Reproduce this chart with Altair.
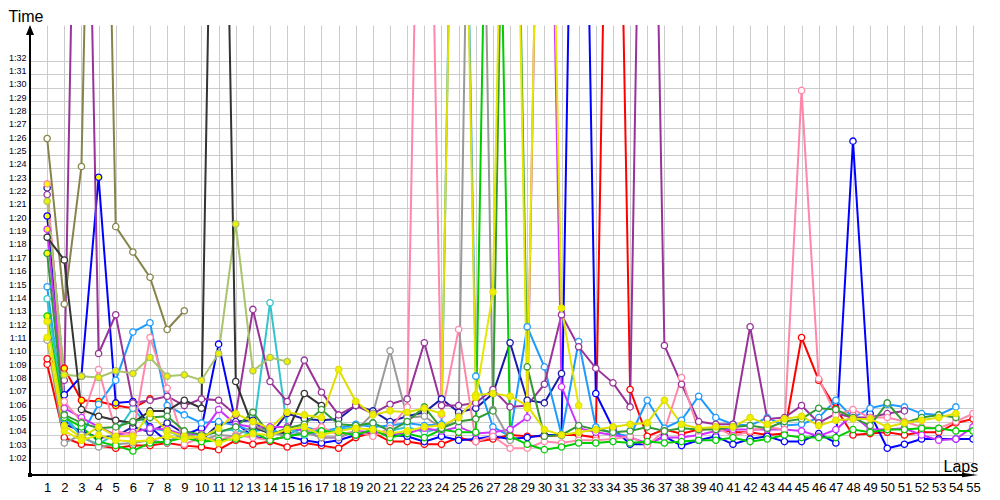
import altair as alt
import pandas as pd

LAPS = list(range(1, 56))
Y_TICKS = list(range(62, 93))

red = [69.3, 63.8, 63.3, 63.2, 63.0, 63.2, 63.2, 63.4, 63.2, 63.1, 62.9, 63.6, 63.3, 63.5, 63.1,
       63.4, 63.2, 63.0, 63.8, 64.2, 63.5, 63.5, 63.3, 63.3, 63.8, 63.5, 63.7, 64.0, 63.9, 63.9,
       64.0, 64.0, 63.8, 138.0, 67.4, 63.9, 64.4, 64.1, 64.4, 64.5, 64.2, 64.2, 64.0, 64.1, 71.3,
       68.1, 66.0, 64.0, 64.1, 64.2, 64.0, 64.2, 64.2, 64.9, 65.2]
red2 = [69.7, 69.0, 66.6, 66.5, 66.2, 66.0, 66.7]
blue = [80.4, 67.0, 68.4, 83.3, 66.4, 66.5, 64.6, 63.5, 64.0, 64.5, 70.8, 64.9, 63.9, 63.6, 63.9,
        63.6, 63.4, 63.6, 64.0, 64.3, 64.0, 63.9, 63.5, 63.9, 63.6, 63.7, 63.9, 63.7, 63.8, 64.0,
        64.0, 141.0, 67.1, 64.5, 63.3, 63.3, 63.9, 63.2, 63.6, 63.9, 63.3, 63.7, 63.9, 63.5, 63.5,
        64.1, 63.4, 86.0, 65.6, 63.0, 63.3, 63.7, 63.7, 63.7, 63.7]
navy = [82.5, 64.8, 64.3, 63.8, 63.9, 64.6, 64.2, 64.9, 64.1, 63.6, 64.8, 65.0, 65.1, 64.0, 65.6,
        65.2, 65.1, 65.2, 66.2, 65.8, 65.0, 65.4, 65.7, 66.7, 65.7, 66.0, 67.1, 70.9, 66.6, 66.4,
        68.6]
lightblue = [75.1, 65.2, 64.0, 66.3, 68.1, 71.7, 72.4, 66.2, 65.5, 64.9, 65.0, 64.7, 64.3, 64.4, 64.0,
             64.6, 64.3, 64.5, 64.8, 64.6, 64.7, 64.9, 64.7, 64.8, 139.0, 68.4, 64.6, 63.9, 72.1, 69.1,
             64.0, 71.0, 64.6, 64.1, 63.9, 66.6, 64.5, 65.1, 66.9, 65.3, 64.8, 64.7, 65.3, 64.7, 64.8,
             65.3, 66.6, 65.3, 66.0, 66.3, 66.1, 65.6, 65.5, 66.1]
cyan = [74.2, 65.6, 63.8, 63.3, 64.1, 66.0, 64.5, 64.3, 63.8, 63.9, 64.3, 64.4, 64.0, 73.9, 64.5,
        64.0, 64.2, 64.4, 64.6, 64.9, 64.3, 64.6, 64.2, 64.5]
purple = [82.0, 68.1, 136.0, 70.1, 73.0, 66.4, 66.6, 66.9, 66.2, 66.7, 66.6, 65.5, 73.4, 68.0, 66.5,
          69.6, 67.2, 65.5, 66.2, 65.6, 66.3, 66.7, 70.9, 66.2, 66.2, 66.4, 67.4, 66.1, 66.2, 67.8,
          73.0, 70.6, 69.0, 67.9, 66.1, 142.0, 70.7, 67.8, 65.0, 64.8, 64.8, 72.1, 65.2, 65.3, 66.2,
          64.9, 65.6, 65.3, 65.3, 65.6, 65.8]
violet = [79.4, 66.0, 65.3, 64.6, 64.0, 64.2, 64.5, 64.4, 64.0, 64.1, 65.9, 64.8, 64.6, 64.6, 64.6,
          64.3, 63.8, 63.8, 64.3, 64.2, 64.1, 64.1, 64.5, 64.3, 64.6, 64.1, 64.2, 64.4, 65.3, 137.0,
          67.6, 64.5, 64.2, 64.0, 63.8, 63.4, 63.8, 63.8, 64.0, 64.3, 64.4, 64.4, 64.4, 64.4, 64.3,
          63.9, 64.4, 65.5, 64.4, 64.4, 64.5, 64.0, 63.6, 63.7, 64.6]
pink = [82.8, 66.5, 65.0, 68.9, 64.3, 64.0, 71.3, 67.5, 63.3, 63.8, 63.6, 64.0, 63.8, 63.6, 63.9,
        64.2, 64.6, 64.0, 64.3, 63.9, 64.5, 66.1, 135.0, 65.5, 71.9, 63.5, 63.9, 63.0, 63.0, 63.5,
        63.4, 63.6, 63.6, 63.7, 63.9, 63.2, 64.3, 68.3, 64.3, 64.6, 63.9, 64.3, 64.6, 64.4, 89.8,
        68.2, 65.5, 65.9, 65.3, 65.3, 65.0, 64.6, 64.5, 65.0, 65.6]
olive = [86.2, 73.8, 84.1, 145.0, 79.6, 77.7, 75.8, 71.9, 73.3]
yellowgreen = [81.5, 68.5, 68.4, 68.3, 68.8, 68.6, 69.8, 68.4, 68.5, 68.1, 70.1, 79.8, 68.8, 69.8, 69.5]
black = [78.8, 77.1, 65.9, 65.4, 65.1, 64.9, 65.8, 65.8, 66.6, 66.0, 140.0, 68.0, 64.6, 64.1, 64.2,
         67.1, 66.2]
gray = [71.1, 63.4, 64.0, 63.1, 63.3, 63.4, 63.6, 63.4, 64.2, 63.6, 64.0, 63.9, 64.7, 64.2, 63.9,
        64.2, 63.8, 63.8, 64.3, 65.6, 70.3, 65.3, 65.4, 64.5, 65.4, 143.0, 65.9, 63.6]
green = [72.9, 65.3, 64.6, 63.5, 63.2, 62.8, 63.4, 63.5, 63.8, 63.5, 63.6, 63.7, 64.2, 63.6, 63.9,
         64.1, 64.3, 64.2, 64.0, 64.4, 63.8, 64.1, 63.8, 64.4, 64.2, 64.2, 137.0, 63.9, 63.3, 62.9,
         63.1, 63.4, 63.4, 63.5, 63.4, 63.5, 63.4, 63.5, 63.6, 63.6, 63.8, 63.5, 63.7, 64.0, 63.8,
         63.8, 63.8, 64.4, 64.2, 64.4, 64.4, 64.5, 64.5, 64.3, 64.3]
darkgreen = [77.6, 65.5, 64.9, 64.5, 64.6, 65.0, 65.3, 65.4, 64.3, 64.0, 64.2, 64.6, 65.7, 64.0, 64.5,
             64.8, 65.9, 64.8, 64.7, 64.9, 64.3, 65.0, 66.1, 64.5, 65.0, 65.2, 65.8, 139.0, 69.1, 63.9,
             64.0, 64.7, 64.4, 64.2, 64.3, 64.6, 64.3, 64.5, 64.4, 64.4, 64.6, 64.7, 64.5, 65.0, 65.2,
             66.0, 65.9, 65.3, 64.7, 66.4, 64.9, 65.3, 65.5, 65.3]
yellow1 = [72.5, 64.7, 63.8, 64.6, 63.9, 63.9, 65.6, 64.3, 63.9, 63.8, 64.5, 65.6, 65.0, 64.5, 65.7,
           65.5, 65.3, 68.9, 66.5, 65.5, 65.8, 65.7, 66.0, 65.6, 136.0, 67.0, 67.1, 66.9, 66.2, 64.4,
           64.0, 64.2, 64.4, 64.6, 64.8, 64.9, 66.6, 64.8, 64.5, 64.6, 64.6, 65.3, 64.8, 65.2, 65.4,
           64.7, 65.1, 65.2, 65.2, 64.6, 64.9, 65.1, 65.3, 65.6]
yellow2 = [71.3, 64.3, 63.6, 64.0, 63.6, 63.5, 63.6, 63.9, 63.7, 63.9, 63.4, 63.8, 64.1, 64.0, 64.4,
           64.6, 64.0, 64.3, 64.5, 64.4, 64.1, 64.3, 64.6, 64.7, 65.3, 66.8, 74.7, 138.0, 66.0, 137.0,
           73.5, 66.2]

SERIES = [
    ("red", "#ff0000", red), ("red2", "#ff0000", red2), ("blue", "#0000ff", blue),
    ("navy", "#1c1ca8", navy), ("lightblue", "#1e9bff", lightblue), ("cyan", "#33c4cc", cyan),
    ("purple", "#993399", purple), ("violet", "#cc33ff", violet), ("pink", "#ff88aa", pink),
    ("olive", "#86844a", olive), ("yellowgreen", "#a9c46c", yellowgreen), ("black", "#333333", black),
    ("gray", "#999999", gray), ("green", "#00cc00", green), ("darkgreen", "#339933", darkgreen),
    ("yellow1", "#e0e000", yellow1), ("yellow2", "#e6e600", yellow2),
]
# laps drawn with a yellow-filled marker
HIGHLIGHT = {"red2": [2, 3, 4, 5, 6, 7], "blue": [1, 3, 4, 5], "pink": [1], "violet": [1],
             "darkgreen": [1], "green": [1]}

rows = []
for order, (name, col, vals) in enumerate(SERIES):
    for lap, v in zip(LAPS, vals):
        if v is None:
            continue
        fillc = "#ffff00" if lap in HIGHLIGHT.get(name, []) else "#ffffff"
        if name.startswith("yellow"):
            fillc = "#f0f000"
        rows.append({"lap": lap, "t": v, "series": name, "ord": order, "fillc": fillc})
df = pd.DataFrame(rows)

names = [s[0] for s in SERIES]
colors = [s[1] for s in SERIES]
cscale = alt.Scale(domain=names, range=colors)

W, H = 943, 450
FONT = "Liberation Sans"

xenc = alt.X("lap:Q", scale=alt.Scale(domain=[0, 55], nice=False, zero=False),
             axis=alt.Axis(values=LAPS, format="d", labelFont=FONT, labelFontSize=13, labelColor="#000",
                           labelPadding=6, ticks=False, domain=False, grid=True, gridColor="#cccccc",
                           gridWidth=1, labelOverlap=False, labelFlush=False, labelBound=False,
                           title="Laps", titleFont=FONT, titleFontSize=16, titleFontWeight="normal",
                           titleColor="#000", titleAlign="left", titleBaseline="alphabetic",
                           titleX=913, titleY=-4, titleAngle=0))
yenc = alt.Y("t:Q", scale=alt.Scale(domain=[61, 94.7], nice=False, zero=False),
             axis=alt.Axis(values=Y_TICKS,
                           labelExpr="'1:' + (datum.value < 70 ? '0' : '') + (datum.value - 60)",
                           labelFont=FONT, labelFontSize=9, labelColor="#000022", labelPadding=4,
                           labelBaseline="alphabetic", labelOffset=-1, ticks=False, domain=False,
                           grid=True, gridColor="#cccccc", gridWidth=1, labelOverlap=False,
                           labelFlush=False, labelBound=False,
                           title="Time", titleFont=FONT, titleFontSize=16, titleFontWeight="normal",
                           titleColor="#000", titleAlign="left", titleBaseline="alphabetic",
                           titleX=-22, titleY=-4, titleAngle=0))

lines = alt.Chart(df).mark_line(strokeWidth=2, clip=True).encode(
    x=xenc, y=yenc,
    color=alt.Color("series:N", scale=cscale, legend=None),
    detail="series:N",
)
points = alt.Chart(df).mark_point(shape="circle", filled=True, size=40, strokeWidth=1.3,
                                  clip=True, opacity=1).encode(
    x=xenc, y=yenc,
    stroke=alt.Stroke("series:N", scale=cscale, legend=None),
    fill=alt.Fill("fillc:N", scale=None),
)

one = pd.DataFrame({"a": [0]})
yaxis_line = alt.Chart(one).mark_rule(color="#000", strokeWidth=2).encode(
    x=alt.value(0), y=alt.value(4), y2=alt.value(H))
xaxis_line = alt.Chart(one).mark_rule(color="#000", strokeWidth=2).encode(
    x=alt.value(0), x2=alt.value(940), y=alt.value(H))
up_arrow = alt.Chart(one).mark_point(shape="M0,-1L-0.8,1L0.8,1Z", filled=True, color="#000",
                                     size=100, opacity=1).encode(x=alt.value(0), y=alt.value(5))
right_arrow = alt.Chart(one).mark_point(shape="M1,0L-1,-0.28L-1,0.28Z", filled=True, color="#000",
                                        size=256, opacity=1).encode(x=alt.value(940), y=alt.value(H))
origin = alt.Chart(one).mark_point(shape="square", filled=True, color="#000", size=16,
                                   opacity=1).encode(x=alt.value(0), y=alt.value(H))

chart = alt.layer(lines, points, yaxis_line, xaxis_line, up_arrow, right_arrow, origin).properties(
    width=W, height=H,
    padding={"left": 22, "top": 17, "right": 14, "bottom": 21},
    autosize=alt.AutoSizeParams(type="none"),
    background="#ffffff",
).configure_view(stroke=None)

chart.save("out.html", embed_options={"renderer": "svg", "actions": False})
